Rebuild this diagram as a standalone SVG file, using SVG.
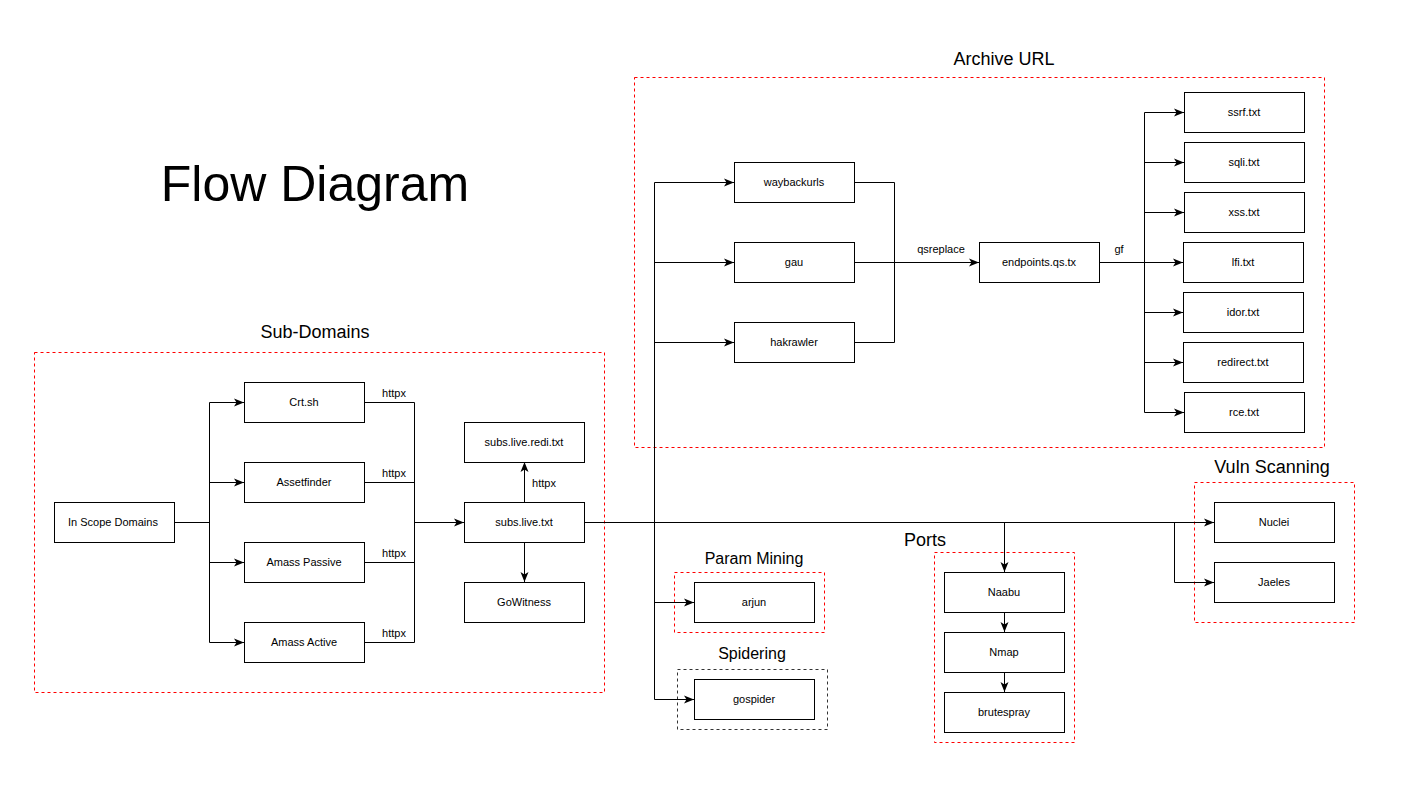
<svg xmlns="http://www.w3.org/2000/svg" width="1401" height="797" viewBox="0 0 1401 797">
<style>
.n rect{fill:#fff;stroke:#000;stroke-width:1}
.n text,.lbl{font-family:"Liberation Sans",Arial,sans-serif;font-size:11px;fill:#000;text-anchor:middle}
.c{fill:none;stroke:#000;stroke-width:1}
.g{fill:none;stroke:#ff0000;stroke-width:1;stroke-dasharray:3 3}
.gk{fill:none;stroke:#333;stroke-width:1;stroke-dasharray:3 3}
.t{font-family:"Liberation Sans",Arial,sans-serif;font-size:18px;fill:#000;text-anchor:middle}
.ts{font-size:16px}
</style>
<defs>
<marker id="a" viewBox="0 0 10 10" refX="10" refY="5" markerWidth="10" markerHeight="10" markerUnits="userSpaceOnUse" orient="auto">
<path d="M0,1 L10,5 L0,9 L2.5,5 Z" fill="#000"/>
</marker>
</defs>
<rect width="1401" height="797" fill="#fff"/>
<text x="315" y="201" font-family="'Liberation Sans',Arial,sans-serif" font-size="50" text-anchor="middle">Flow Diagram</text>

<g id="groups">
<rect class="g" x="34.5" y="352.5" width="570" height="340"/>
<text class="t" x="315" y="338">Sub-Domains</text>
<rect class="g" x="634.5" y="77.5" width="690" height="370"/>
<text class="t" x="1004" y="65">Archive URL</text>
<rect class="g" x="674.5" y="572.5" width="150" height="60"/>
<text class="t ts" x="754" y="564">Param Mining</text>
<rect class="gk" x="677.5" y="669.5" width="150" height="60"/>
<text class="t ts" x="752" y="659">Spidering</text>
<rect class="g" x="934.5" y="552.5" width="140" height="190"/>
<text class="t" x="925" y="546">Ports</text>
<rect class="g" x="1194.5" y="482.5" width="160" height="140"/>
<text class="t" x="1272" y="473">Vuln Scanning</text>
</g>

<g id="connectors">
<path class="c" d="M174.5,522.5 H209.5 M209.5,402.5 V642.5"/>
<path class="c" d="M209.5,402.5 H244" marker-end="url(#a)"/>
<path class="c" d="M209.5,482.5 H244" marker-end="url(#a)"/>
<path class="c" d="M209.5,562.5 H244" marker-end="url(#a)"/>
<path class="c" d="M209.5,642.5 H244" marker-end="url(#a)"/>
<path class="c" d="M364.5,402.5 H414.5 V642.5 H364.5 M364.5,482.5 H414.5 M364.5,562.5 H414.5"/>
<path class="c" d="M414.5,522.5 H464" marker-end="url(#a)"/>
<path class="c" d="M524.5,502.5 V462" marker-end="url(#a)"/>
<path class="c" d="M524.5,542.5 V582" marker-end="url(#a)"/>
<path class="c" d="M584.5,522.5 H1214" marker-end="url(#a)"/>
<path class="c" d="M654.5,182.5 V699.5"/>
<path class="c" d="M654.5,182.5 H734" marker-end="url(#a)"/>
<path class="c" d="M654.5,262.5 H734" marker-end="url(#a)"/>
<path class="c" d="M654.5,342.5 H734" marker-end="url(#a)"/>
<path class="c" d="M654.5,602.5 H694" marker-end="url(#a)"/>
<path class="c" d="M654.5,699.5 H694" marker-end="url(#a)"/>
<path class="c" d="M854.5,182.5 H894.5 V342.5 H854.5"/>
<path class="c" d="M854.5,262.5 H979" marker-end="url(#a)"/>
<path class="c" d="M1099.5,262.5 H1144.5 M1144.5,112.5 V412.5"/>
<path class="c" d="M1144.5,112.5 H1184" marker-end="url(#a)"/>
<path class="c" d="M1144.5,162.5 H1184" marker-end="url(#a)"/>
<path class="c" d="M1144.5,212.5 H1184" marker-end="url(#a)"/>
<path class="c" d="M1144.5,262.5 H1183" marker-end="url(#a)"/>
<path class="c" d="M1144.5,312.5 H1183" marker-end="url(#a)"/>
<path class="c" d="M1144.5,362.5 H1183" marker-end="url(#a)"/>
<path class="c" d="M1144.5,412.5 H1184" marker-end="url(#a)"/>
<path class="c" d="M1004.5,522.5 V572" marker-end="url(#a)"/>
<path class="c" d="M1004.5,612.5 V632" marker-end="url(#a)"/>
<path class="c" d="M1004.5,672.5 V692" marker-end="url(#a)"/>
<path class="c" d="M1174.5,522.5 V582.5 H1214" marker-end="url(#a)"/>
<text class="lbl" x="394" y="397">httpx</text>
<text class="lbl" x="394" y="477">httpx</text>
<text class="lbl" x="394" y="557">httpx</text>
<text class="lbl" x="394" y="637">httpx</text>
<text class="lbl" x="544" y="487">httpx</text>
<text class="lbl" x="941" y="253">qsreplace</text>
<text class="lbl" x="1119" y="253">gf</text>
</g>

<g id="n-inscope" class="n"><rect x="54.5" y="502.5" width="120" height="40"/><text x="113" y="526">In Scope Domains</text></g>
<g id="n-crtsh" class="n"><rect x="244.5" y="382.5" width="120" height="40"/><text x="304" y="406">Crt.sh</text></g>
<g id="n-assetfinder" class="n"><rect x="244.5" y="462.5" width="120" height="40"/><text x="304" y="486">Assetfinder</text></g>
<g id="n-amasspassive" class="n"><rect x="244.5" y="542.5" width="120" height="40"/><text x="304" y="566">Amass Passive</text></g>
<g id="n-amassactive" class="n"><rect x="244.5" y="622.5" width="120" height="40"/><text x="304" y="646">Amass Active</text></g>
<g id="n-redi" class="n"><rect x="464.5" y="422.5" width="120" height="40"/><text x="524" y="446">subs.live.redi.txt</text></g>
<g id="n-live" class="n"><rect x="464.5" y="502.5" width="120" height="40"/><text x="524" y="526">subs.live.txt</text></g>
<g id="n-gowitness" class="n"><rect x="464.5" y="582.5" width="120" height="40"/><text x="524" y="606">GoWitness</text></g>
<g id="n-wayback" class="n"><rect x="734.5" y="162.5" width="120" height="40"/><text x="794" y="186">waybackurls</text></g>
<g id="n-gau" class="n"><rect x="734.5" y="242.5" width="120" height="40"/><text x="794" y="266">gau</text></g>
<g id="n-hakrawler" class="n"><rect x="734.5" y="322.5" width="120" height="40"/><text x="794" y="346">hakrawler</text></g>
<g id="n-endpoints" class="n"><rect x="979.5" y="242.5" width="120" height="40"/><text x="1039" y="266">endpoints.qs.tx</text></g>
<g id="n-ssrf" class="n"><rect x="1184.5" y="92.5" width="120" height="40"/><text x="1244" y="116">ssrf.txt</text></g>
<g id="n-sqli" class="n"><rect x="1184.5" y="142.5" width="120" height="40"/><text x="1244" y="166">sqli.txt</text></g>
<g id="n-xss" class="n"><rect x="1184.5" y="192.5" width="120" height="40"/><text x="1244" y="216">xss.txt</text></g>
<g id="n-lfi" class="n"><rect x="1183.5" y="242.5" width="120" height="40"/><text x="1243" y="266">lfi.txt</text></g>
<g id="n-idor" class="n"><rect x="1183.5" y="292.5" width="120" height="40"/><text x="1243" y="316">idor.txt</text></g>
<g id="n-redirect" class="n"><rect x="1183.5" y="342.5" width="120" height="40"/><text x="1243" y="366">redirect.txt</text></g>
<g id="n-rce" class="n"><rect x="1184.5" y="392.5" width="120" height="40"/><text x="1244" y="416">rce.txt</text></g>
<g id="n-arjun" class="n"><rect x="694.5" y="582.5" width="120" height="40"/><text x="754" y="606">arjun</text></g>
<g id="n-gospider" class="n"><rect x="694.5" y="679.5" width="120" height="40"/><text x="754" y="703">gospider</text></g>
<g id="n-naabu" class="n"><rect x="944.5" y="572.5" width="120" height="40"/><text x="1004" y="596">Naabu</text></g>
<g id="n-nmap" class="n"><rect x="944.5" y="632.5" width="120" height="40"/><text x="1004" y="656">Nmap</text></g>
<g id="n-brutespray" class="n"><rect x="944.5" y="692.5" width="120" height="40"/><text x="1004" y="716">brutespray</text></g>
<g id="n-nuclei" class="n"><rect x="1214.5" y="502.5" width="120" height="40"/><text x="1274" y="526">Nuclei</text></g>
<g id="n-jaeles" class="n"><rect x="1214.5" y="562.5" width="120" height="40"/><text x="1274" y="586">Jaeles</text></g>
</svg>
